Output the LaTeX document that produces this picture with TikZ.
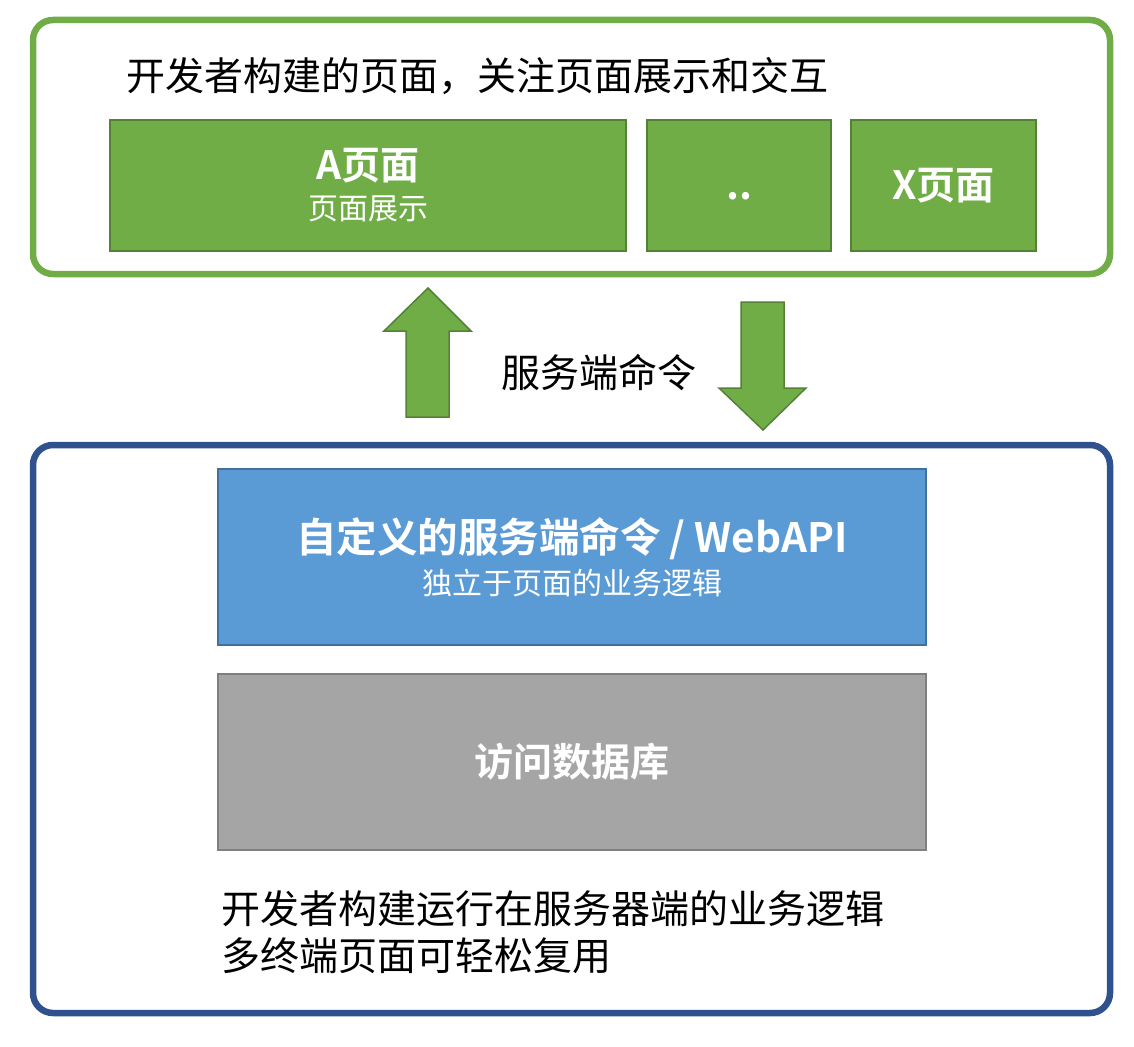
\documentclass[tikz,border=0pt]{standalone}
\usepackage{fontspec}
\setmainfont{Noto Sans CJK SC}[BoldFont={* Bold}]
\definecolor{leafgreen}{HTML}{70AD47}
\definecolor{leafedge}{HTML}{548235}
\definecolor{skyblue}{HTML}{5B9BD5}
\definecolor{skyedge}{HTML}{41719C}
\definecolor{navyframe}{HTML}{2F528F}
\definecolor{stonegray}{HTML}{A5A5A5}
\definecolor{stoneedge}{HTML}{7F7F7F}

\begin{document}
\begin{tikzpicture}[x=1pt,y=-1pt,
    frame/.style={rounded corners=20pt, line width=6.5pt},
    pagebox/.style={draw=leafedge, fill=leafgreen, line width=2pt, minimum height=131pt,
      inner sep=0pt, text=white, align=center, font=\fontsize{30}{40}\selectfont},
    serverbox/.style={line width=2pt, minimum width=708pt, minimum height=176pt,
      inner sep=0pt, text=white, align=center, font=\fontsize{30}{42}\selectfont},
    plain/.style={inner sep=0pt, anchor=west, font=\fontsize{39}{47}\selectfont, align=left},
    blockarrow/.style={draw=leafedge, fill=leafgreen, line width=1.5pt}]
            \useasboundingbox (0,0) rectangle (1134,1046);
            % outer frames
            \draw[frame, draw=leafgreen] (33,20) rectangle (1110,274);
            \draw[frame, draw=navyframe] (33,445) rectangle (1110,1013);
            % pages
            \node[plain] (pagetitle) at (126,76) {开发者构建的页面，关注页面展示和交互};
            \node[pagebox, minimum width=516pt] (a) at (368,185.5) {{\bfseries\fontsize{39}{40}\selectfont A页面}\\页面展示};
            \node[pagebox, minimum width=184pt] (dots) at (739,185.5) {\bfseries\fontsize{40}{40}\selectfont\vphantom{X页面}..};
            \node[pagebox, minimum width=185pt] (x) at (943.5,185.5) {\bfseries\fontsize{39}{40}\selectfont X页面};
            % server side
            \node[serverbox, draw=skyedge, fill=skyblue] (cmd) at (572,557) {{\bfseries\fontsize{40.5}{42}\selectfont 自定义的服务端命令 / WebAPI}\\独立于页面的业务逻辑};
            \node[serverbox, draw=stoneedge, fill=stonegray] (db) at (572,762) {\bfseries\fontsize{39}{42}\selectfont 访问数据库};
            \node[plain] (servernote) at (221,932) {开发者构建运行在服务器端的业务逻辑\\多终端页面可轻松复用};
            % arrows between
            \draw[blockarrow] (406,417) -- (406,331) -- (384,331) -- (428,288) -- (471,331) -- (449,331) -- (449,417) -- cycle;
            \draw[blockarrow] (741,302) -- (784,302) -- (784,388) -- (806,388) -- (763,430) -- (719,388) -- (741,388) -- cycle;
            \node[inner sep=0pt, font=\fontsize{39}{47}\selectfont] (command) at (599,373) {服务端命令};
        \end{tikzpicture}
\end{document}
